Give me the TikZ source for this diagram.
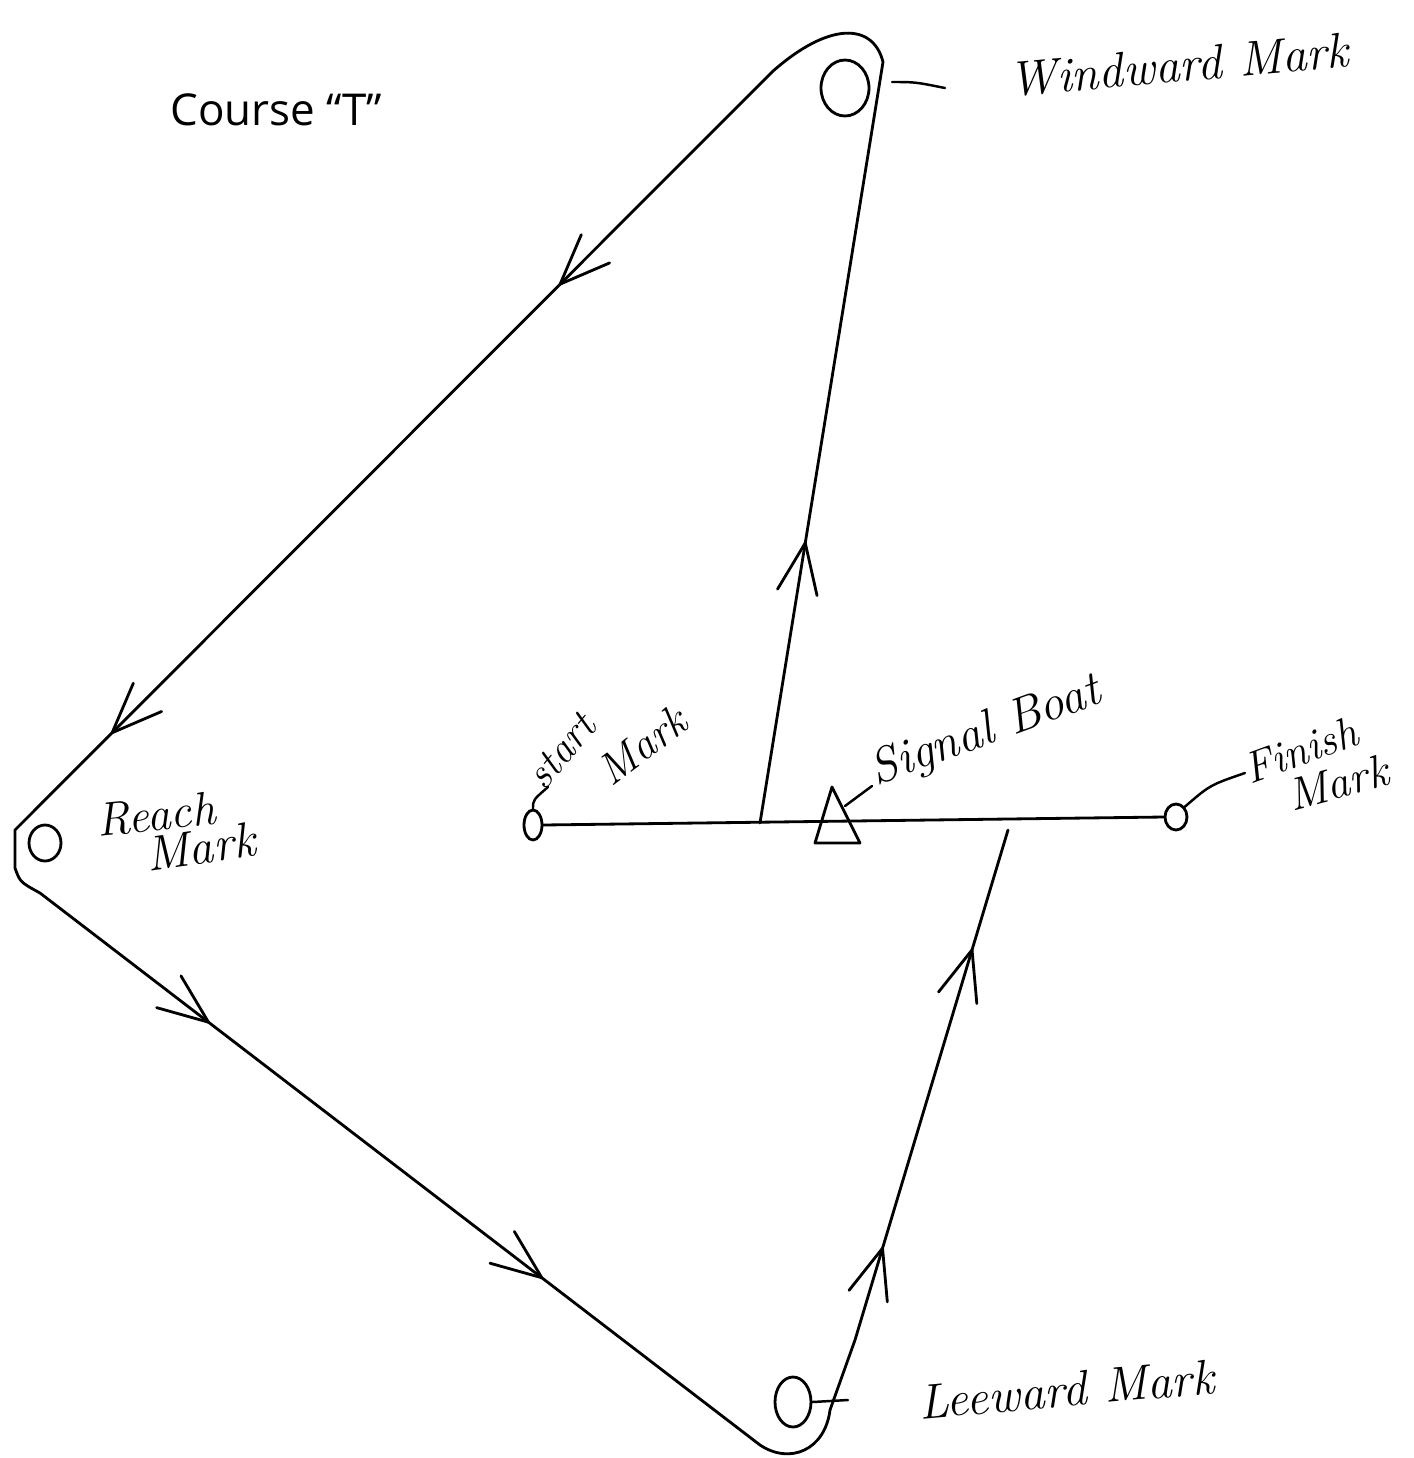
\documentclass[tikz,border=0pt]{standalone}
\usepackage{fontspec}
\newfontfamily\coursefont{Open Sans}
\usetikzlibrary{shapes.geometric,decorations.markings}
\newcommand\chevron{\draw[line width=1.6pt,line cap=round,line join=round] (-50,-20) -- (0,0) -- (-50,20);}
\tikzset{
  course/.style={line width=1.6pt,line join=round,line cap=round},
  buoy/.style={draw,ellipse,line width=1.6pt,inner sep=0pt},
  hand/.style={font=\itshape\fontsize{#1}{#1}\selectfont,inner sep=0pt},
  leader/.style={line width=1.4pt,line cap=round},
  onechev/.style={decoration={markings,
      mark=at position #1 with {\chevron}},decorate},
  chevs/.style 2 args={decoration={markings,
      mark=at position #1 with {\chevron},
      mark=at position #2 with {\chevron}},decorate},
}
\begin{document}
\begin{tikzpicture}[x=0.02cm,y=-0.02cm]
\useasboundingbox (0,0) rectangle (1414,1458);
% title
\node[font=\coursefont\fontsize{25}{30}\selectfont,anchor=west,inner sep=0pt] (title) at (170,110) {Course “T”};
% marks
\node[buoy,minimum width=0.96cm,minimum height=1.12cm] (ww) at (845,88) {};
\node[buoy,minimum width=0.64cm,minimum height=0.72cm] (reach) at (45,843) {};
\node[buoy,minimum width=0.72cm,minimum height=1.0cm] (lee) at (793,1402) {};
\node[buoy,minimum width=0.36cm,minimum height=0.6cm] (start) at (533,825) {};
\node[buoy,minimum width=0.44cm,minimum height=0.52cm] (finish) at (1176,817) {};
% signal boat triangle
\coordinate (tA) at (832,787);
\coordinate (tB) at (815,843);
\coordinate (tC) at (860,843);
\draw[course] (tA) -- (tB) -- (tC) -- cycle;
% start / finish line
\draw[course] (start.east) -- (finish.west);
% course path
\coordinate (s1) at (760,823);
\coordinate (w1) at (883,62);
\coordinate (w2) at (772,72);
\coordinate (r1) at (15,830);
\coordinate (r2) at (15,868);
\coordinate (r3) at (40,893);
\coordinate (l1) at (760,1445);
\coordinate (l2) at (830,1410);
\coordinate (l3) at (855,1340);
\coordinate (f1) at (1008,830);
\draw[course] (s1) -- (w1) .. controls (873,22) and (828,22) .. (w2) -- (r1) -- (r2)
  .. controls (20,882) .. (r3) -- (l1) .. controls (790,1465) and (825,1450) .. (l2) -- (l3) -- (f1);
% direction chevrons
\path[onechev=0.368] (s1) -- (w1);
\path[chevs={0.28}{0.872}] (w2) -- (r1);
\path[chevs={0.234}{0.697}] (r3) -- (l1);
\path[chevs={0.18}{0.765}] (l3) -- (f1);
% leaders
\coordinate (wwL) at (945,88);
\draw[leader] (892,82) .. controls (915,82) .. (wwL);
\coordinate (stL) at (548,787);
\draw[leader] (start.north) .. controls (533,800) .. (stL);
\coordinate (sbL) at (872,786);
\draw[leader] (845,806) -- (sbL);
\coordinate (fiL) at (1245,773);
\draw[leader] (finish.north east) .. controls (1210,785) .. (fiL);
\coordinate (leL) at (848,1400);
\draw[leader] (lee.east) -- (leL);
% labels
\node[hand=28,rotate=5,anchor=south west] (tww) at (1010,98) {Windward Mark};
\node[hand=27,rotate=6,anchor=south west] (tre1) at (98,838) {Reach};
\node[hand=28,rotate=8,anchor=south west] (tre2) at (148,872) {Mark};
\node[hand=24,rotate=50,anchor=south west] (tst1) at (545,792) {start};
\node[hand=25,rotate=37,anchor=south west] (tst2) at (612,788) {Mark};
\node[hand=28,rotate=20,anchor=south west] (tsb) at (880,795) {Signal Boat};
\node[hand=25,rotate=20,anchor=south west] (tfi1) at (1250,785) {Finish};
\node[hand=26,rotate=15,anchor=south west] (tfi2) at (1292,812) {Mark};
\node[hand=28,rotate=5,anchor=south west] (tle) at (920,1420) {Leeward Mark};
\end{tikzpicture}
\end{document}
